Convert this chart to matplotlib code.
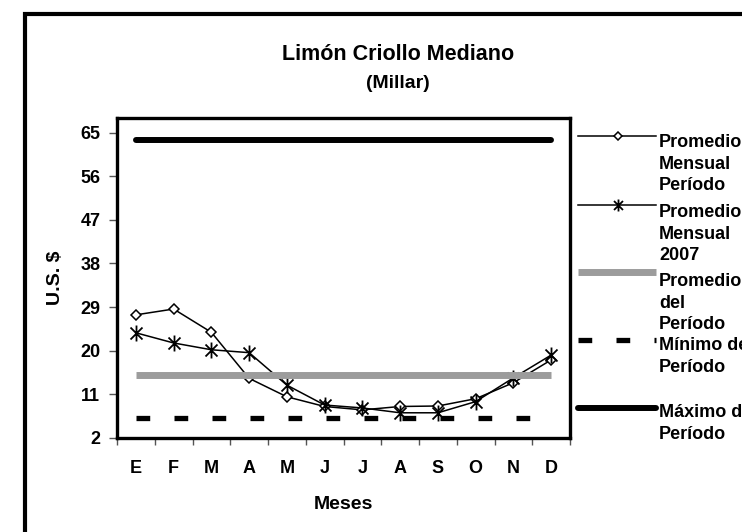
import matplotlib
matplotlib.use("Agg")
import matplotlib.pyplot as plt
import numpy as np
from matplotlib.path import Path
from matplotlib.lines import Line2D
from matplotlib.patches import Rectangle

plt.rcParams['font.family'] = ['Liberation Sans', 'DejaVu Sans']
plt.rcParams['font.weight'] = 'bold'

meses = ['E', 'F', 'M', 'A', 'M', 'J', 'J', 'A', 'S', 'O', 'N', 'D']
prom_mensual_periodo = [27.4, 28.6, 23.8, 14.3, 10.5, 8.5, 7.8, 8.5, 8.6, 10.1, 13.4, 18.1]
prom_mensual_2007 = [23.7, 21.6, 20.2, 19.6, 12.9, 8.8, 8.2, 7.2, 7.2, 9.5, 14.4, 19.1]
prom_periodo = [14.9] * 12
minimo_periodo = [6.1] * 12
maximo_periodo = [63.4] * 12
y_ticks = [2, 11, 20, 29, 38, 47, 56, 65]

legend_labels = [
    ['Promedio', 'Mensual', 'Período'],
    ['Promedio', 'Mensual', '2007'],
    ['Promedio', 'del', 'Período'],
    ['Mínimo del', 'Período'],
    ['Máximo del', 'Período'],
]

# excel style star: vertical bar plus an X
star = Path([(0, -1), (0, 1), (-0.75, -0.75), (0.75, 0.75), (-0.75, 0.75), (0.75, -0.75)],
            [Path.MOVETO, Path.LINETO, Path.MOVETO, Path.LINETO, Path.MOVETO, Path.LINETO])

W, H = 742, 532
fig = plt.figure(figsize=(W / 100, H / 100), dpi=100)
ax = fig.add_axes([117 / W, 1 - 438 / H, (570 - 117) / W, (438 - 118) / H])

x = np.arange(len(meses))
styles = [
    dict(color='black', lw=1.1, marker='D', ms=5.5, mfc='white', mec='black', mew=1.1),
    dict(color='black', lw=1.1, marker=star, ms=11.5, mec='black', mew=1.3),
    dict(color='#9c9c9c', lw=5, solid_capstyle='butt'),
    dict(color='black', lw=3.8, ls=(0, (2.6, 4.6)), dash_capstyle='butt'),
    dict(color='black', lw=4.3, solid_capstyle='round'),
]
series = [prom_mensual_periodo, prom_mensual_2007, prom_periodo, minimo_periodo, maximo_periodo]
for s, st in zip(series, styles):
    ax.plot(x, s, **st)

ax.set_xlim(-0.5, 11.5)
ax.set_ylim(2, 68)
ax.set_yticks(y_ticks)
ax.set_xticks(np.arange(-0.5, 12, 1))
ax.set_xticklabels([])
ax.set_xticks(x, minor=True)
ax.set_xticklabels(meses, minor=True)
ax.tick_params(axis='x', which='major', length=5, width=1, color='#555555')
ax.tick_params(axis='x', which='minor', length=0, pad=16, labelsize=13)
ax.tick_params(axis='y', length=6, width=1, color='#555555', pad=6, labelsize=13)
for sp in ax.spines.values():
    sp.set_linewidth(2.4)

ax.set_xlabel('Meses', fontsize=14, fontweight='bold')
ax.xaxis.set_label_coords(0.5, -0.18)
ax.set_ylabel('U.S. $', fontsize=14, fontweight='bold')
ax.yaxis.set_label_coords(-0.118, 0.5)

fig.text(398 / W, 1 - 54 / H, 'Limón Criollo Mediano', ha='center', va='center',
         fontsize=15.5, fontweight='bold')
fig.text(398 / W, 1 - 84 / H, '(Millar)', ha='center', va='center',
         fontsize=14, fontweight='bold')

# legend drawn by hand so the labels can run off the right edge like the original
handle_y = [136, 205, 272, 340, 408]
text_y = [141, 211, 280, 344, 411]
for i, (hy, ty, lab) in enumerate(zip(handle_y, text_y, legend_labels)):
    st = dict(styles[i])
    if 'marker' in st:
        st['ms'] = st['ms'] * 0.75
    fig.add_artist(Line2D([578 / W, 656 / W], [1 - hy / H, 1 - hy / H],
                          transform=fig.transFigure, markevery=[], **st))
    if 'marker' in st:
        fig.add_artist(Line2D([618 / W], [1 - hy / H], transform=fig.transFigure,
                              ls='none', marker=st['marker'], ms=st['ms'],
                              mfc=st.get('mfc', 'none'), mec='black', mew=st['mew']))
    for k, line in enumerate(lab):
        fig.text(659 / W, 1 - (ty + 6 + k * 21.7) / H, line, ha='left', va='baseline',
                 fontsize=13, fontweight='bold')

fig.add_artist(Rectangle((25 / W, -0.1), 1.2, 1.1 - 14 / H, transform=fig.transFigure,
                         fill=False, lw=3, ec='black'))

fig.savefig('out.png', dpi=100)
